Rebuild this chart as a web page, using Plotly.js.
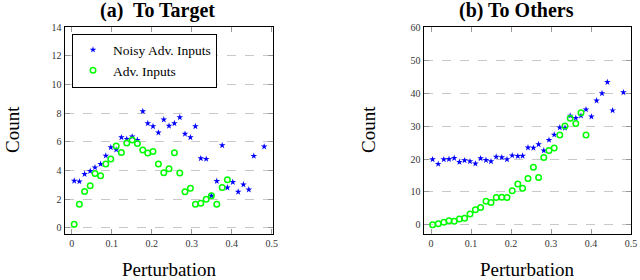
<!DOCTYPE html>
<html>
<head>
<meta charset="utf-8">
<script src="https://cdn.plot.ly/plotly-3.0.1.min.js"></script>
<style>html,body{margin:0;padding:0;background:#fff}#chart{width:640px;height:280px}</style>
</head>
<body>
<div id="chart"></div>
<script>
// Panel (a) To Target
const targetNoisyX = [0.006,0.019,0.032,0.046,0.058,0.072,0.085,0.0975,0.111,0.124,0.1375,0.151,0.164,0.1775,0.19,0.203,0.2165,0.23,0.243,0.2565,0.27,0.283,0.2965,0.309,0.3225,0.336,0.349,0.3625,0.376,0.389,0.4025,0.416,0.429,0.4425,0.455,0.481];
const targetNoisyY = [3.27,3.22,3.74,3.95,4.2,4.44,5.02,5.6,5.44,6.3,6.19,6.35,6.12,8.12,7.28,7.07,6.63,7.54,7.1,7.28,7.7,6.54,6.3,7.07,4.83,4.79,2.22,3.25,5.74,2.8,3.18,2.5,3.01,2.66,5.0,5.65];
const targetAdvX = [0.006,0.019,0.032,0.046,0.058,0.072,0.085,0.0975,0.111,0.124,0.1375,0.151,0.164,0.1775,0.19,0.203,0.2165,0.23,0.243,0.2565,0.27,0.283,0.2965,0.309,0.3225,0.336,0.349,0.3625,0.376,0.389];
const targetAdvY = [0.24,1.64,2.52,2.92,3.78,3.62,4.44,4.79,5.7,5.25,5.91,6.12,5.88,5.42,5.21,5.32,4.44,3.83,4.11,5.23,3.81,2.5,2.76,1.64,1.71,1.99,2.22,1.64,2.8,3.34];

// Panel (b) To Others
const othersNoisyX = [0.004,0.018,0.032,0.045,0.058,0.071,0.084,0.0975,0.111,0.124,0.1375,0.15,0.163,0.177,0.19,0.203,0.217,0.229,0.2425,0.256,0.269,0.282,0.295,0.308,0.322,0.335,0.348,0.362,0.375,0.3875,0.401,0.414,0.4275,0.441,0.454,0.481];
const othersNoisyY = [19.9,18.5,19.9,20.0,20.3,19.1,19.6,19.3,18.6,20.2,19.7,19.3,20.7,20.5,19.9,21.1,20.9,21.0,23.5,23.4,24.5,22.6,25.8,27.4,29.6,29.5,33.2,32.5,33.2,35.1,32.9,37.8,40.0,43.4,34.8,40.3];
const othersAdvX = [0.004,0.018,0.032,0.045,0.058,0.071,0.084,0.0975,0.111,0.124,0.1375,0.15,0.163,0.177,0.19,0.203,0.217,0.229,0.2425,0.256,0.269,0.282,0.295,0.308,0.322,0.335,0.348,0.362,0.375,0.3875];
const othersAdvY = [0.0,0.3,0.8,1.2,1.1,1.8,2.0,3.25,4.6,5.3,7.2,6.8,8.3,8.4,8.3,10.4,12.4,11.1,14.1,17.5,14.4,20.5,22.6,23.4,27.3,30.1,32.4,30.8,34.1,27.3];

const seriesNames = ['Noisy Adv. Inputs', 'Adv. Inputs'];
const xTickVals = [0, 0.1, 0.2, 0.3, 0.4, 0.5];
const xTickText = ['0', '0.1', '0.2', '0.3', '0.4', '0.5'];

const SERIF = 'Liberation Serif, serif';
const BLUE = '#0000ff';
const GREEN = '#00ff00';

const starMarker = {symbol: 'star', size: 5, color: BLUE, line: {width: 0}};
const circMarker = {symbol: 'circle-open', size: 5.5, color: GREEN, line: {width: 1.5, color: GREEN}};

const traces = [
  {x: targetNoisyX, y: targetNoisyY, type: 'scatter', mode: 'markers', name: seriesNames[0], marker: starMarker, xaxis: 'x', yaxis: 'y'},
  {x: targetAdvX, y: targetAdvY, type: 'scatter', mode: 'markers', name: seriesNames[1], marker: circMarker, xaxis: 'x', yaxis: 'y'},
  {x: othersNoisyX, y: othersNoisyY, type: 'scatter', mode: 'markers', name: seriesNames[0], marker: starMarker, xaxis: 'x2', yaxis: 'y2', showlegend: false},
  {x: othersAdvX, y: othersAdvY, type: 'scatter', mode: 'markers', name: seriesNames[1], marker: circMarker, xaxis: 'x2', yaxis: 'y2', showlegend: false}
];

function xAxis(domain, anchor, range) {
  return {
    domain: domain, anchor: anchor, range: range,
    tickvals: xTickVals, ticktext: xTickText,
    ticks: 'inside', ticklen: 5, tickwidth: 1, tickcolor: '#999',
    showline: true, linecolor: '#000', linewidth: 1.4, mirror: 'ticks',
    showgrid: false, zeroline: false,
    tickfont: {family: SERIF, size: 10, color: '#333'}
  };
}
function yAxis(domain, anchor, range, dtick) {
  return {
    domain: domain, anchor: anchor, range: range, dtick: dtick, tick0: 0,
    ticks: 'inside', ticklen: 5, tickwidth: 1, tickcolor: '#999',
    showline: true, linecolor: '#000', linewidth: 1.4, mirror: 'ticks',
    showgrid: true, gridcolor: '#c8c8c8', griddash: 'dash', gridwidth: 1,
    zeroline: false,
    tickfont: {family: SERIF, size: 10, color: '#333'}
  };
}

const yDom = [(280 - 234) / 280, (280 - 27) / 280];

const layout = {
  width: 640, height: 280,
  margin: {l: 0, r: 0, t: 0, b: 0},
  paper_bgcolor: '#fff', plot_bgcolor: '#fff',
  font: {family: SERIF},
  showlegend: true,
  legend: {
    x: 72 / 640, y: (280 - 33.5) / 280, xanchor: 'left', yanchor: 'top',
    bgcolor: '#fff', bordercolor: '#000', borderwidth: 1,
    font: {family: SERIF, size: 13.5, color: '#000'},
    itemwidth: 30, tracegroupgap: 0
  },
  xaxis: xAxis([65 / 640, 273 / 640], 'y', [-0.017, 0.503]),
  yaxis: yAxis(yDom, 'x', [-0.44, 14], 2),
  xaxis2: xAxis([424 / 640, 631 / 640], 'y2', [-0.0175, 0.5]),
  yaxis2: yAxis(yDom, 'x2', [-2.8, 60.2], 10),
  annotations: [
    {text: '<b>(a)  To Target</b>', x: 157 / 640, y: (280 - 11) / 280, xref: 'paper', yref: 'paper', showarrow: false, xanchor: 'center', yanchor: 'middle', font: {family: SERIF, size: 20, color: '#000'}},
    {text: '<b>(b) To Others</b>', x: 516 / 640, y: (280 - 11) / 280, xref: 'paper', yref: 'paper', showarrow: false, xanchor: 'center', yanchor: 'middle', font: {family: SERIF, size: 20, color: '#000'}},
    {text: 'Count', x: 12 / 640, y: (280 - 130) / 280, xref: 'paper', yref: 'paper', showarrow: false, textangle: -90, xanchor: 'center', yanchor: 'middle', font: {family: SERIF, size: 19, color: '#000'}},
    {text: 'Count', x: 368 / 640, y: (280 - 130) / 280, xref: 'paper', yref: 'paper', showarrow: false, textangle: -90, xanchor: 'center', yanchor: 'middle', font: {family: SERIF, size: 19, color: '#000'}},
    {text: 'Perturbation', x: 169 / 640, y: (280 - 269) / 280, xref: 'paper', yref: 'paper', showarrow: false, xanchor: 'center', yanchor: 'middle', font: {family: SERIF, size: 19, color: '#000'}},
    {text: 'Perturbation', x: 527 / 640, y: (280 - 269) / 280, xref: 'paper', yref: 'paper', showarrow: false, xanchor: 'center', yanchor: 'middle', font: {family: SERIF, size: 19, color: '#000'}}
  ]
};

Plotly.newPlot('chart', traces, layout, {staticPlot: true, displayModeBar: false});
</script>
</body>
</html>
